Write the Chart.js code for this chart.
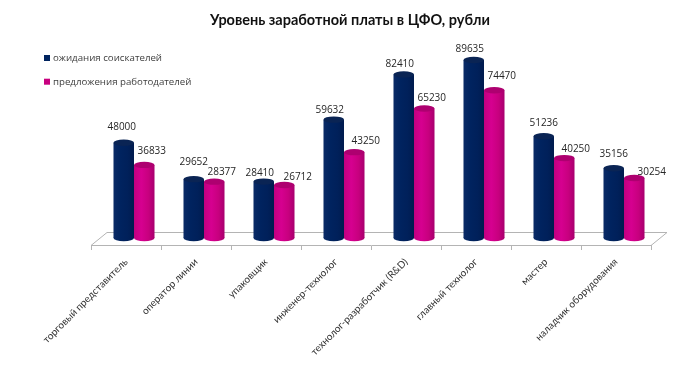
<!DOCTYPE html>
<html><head><meta charset="utf-8">
<style>html,body{margin:0;padding:0;background:#fff}#w{width:700px;height:382px;position:relative}</style>
<script src="https://cdn.jsdelivr.net/npm/chart.js@4"></script>
</head><body><div id="w"><canvas id="c"></canvas></div>
<script>
const categories = ['торговый представитель','оператор линии','упаковщик','инженер-технолог','технолог-разработчик (R&D)','главный технолог','мастер','наладчик оборудования'];
const seriesNames = ['ожидания соискателей','предложения работодателей'];
const seekers = [48000,29652,28410,59632,82410,89635,51236,35156];
const employers = [36833,28377,26712,43250,65230,74470,40250,30254];
const labelNudgeA = [[-2,-12.5],[0,-14],[-4,-5.4],[-4,-5.8],[-4,-7],[-4,-7.8],[0,-10.3],[0,-11]];
const labelNudgeB = [[7.5,-10.7],[7.5,-6.4],[13.5,-4.8],[11.5,-8],[7.5,-7.3],[7.5,-10.9],[11.5,-6],[17.5,-2.7]];
const FONT = '"Open Sans"';
const RY = 3.2, SHIFT = 8;
const palette = [
  {stops:['#0a2a66','#00235f','#00205a','#001b4e'],cap:'#0a2454'},
  {stops:['#c2007f','#d60090','#c8007f','#a8006e'],cap:'#ae0070'}
];
function cylFill(i){
  return c=>{
    const ch=c.chart;
    if(!ch.chartArea||c.dataIndex===undefined) return palette[i].stops[1];
    const xs=ch.scales.x, w=xs.width/categories.length*0.586/2;
    const cx=xs.getPixelForValue(c.dataIndex)+(i===0?-w/2:w/2);
    const g=ch.ctx.createLinearGradient(cx-w/2,0,cx+w/2,0);
    const s=palette[i].stops;
    g.addColorStop(0,s[0]);g.addColorStop(.35,s[1]);g.addColorStop(.7,s[2]);g.addColorStop(1,s[3]);
    return g;
  };
}
const cyl={
  id:'cyl',
  beforeDatasetsDraw(ch){
    const {ctx,chartArea:a}=ch;
    ctx.save();
    ctx.strokeStyle='#b4b4b4';ctx.lineWidth=1;
    ctx.beginPath();
    ctx.moveTo(a.left,a.bottom+.5);ctx.lineTo(a.left+16,a.bottom-12.5);
    ctx.lineTo(a.right+16,a.bottom-12.5);ctx.lineTo(a.right,a.bottom+.5);
    ctx.stroke();
    ctx.restore();
    ctx.save();
    ctx.translate(SHIFT,0);
    ch.data.datasets.forEach((d,i)=>ch.getDatasetMeta(i).data.forEach(b=>{
      ctx.fillStyle=b.options.backgroundColor;
      ctx.beginPath();ctx.ellipse(b.x,b.base,b.width/2,RY,0,0,Math.PI*2);ctx.fill();
    }));
  },
  afterDatasetsDraw(ch){
    const {ctx}=ch;
    ch.data.datasets.forEach((d,i)=>ch.getDatasetMeta(i).data.forEach(b=>{
      ctx.fillStyle=palette[i].cap;
      ctx.beginPath();ctx.ellipse(b.x,b.y,b.width/2,RY,0,0,Math.PI*2);ctx.fill();
    }));
    ctx.restore();
    ctx.save();
    ctx.fillStyle='#262626';ctx.font='10px '+FONT;ctx.textAlign='center';ctx.textBaseline='middle';
    ch.data.datasets.forEach((d,i)=>{
      const nudge=i===0?labelNudgeA:labelNudgeB;
      ch.getDatasetMeta(i).data.forEach((b,k)=>{
        ctx.fillText(String(d.data[k]),b.x+SHIFT+nudge[k][0],b.y-RY+nudge[k][1]);
      });
    });
    ctx.textAlign='left';ctx.font='9.7px '+FONT;
    ch.data.datasets.forEach((d,i)=>{
      const y=58+i*23.7;
      ctx.fillStyle=palette[i].stops[i===0?1:2];ctx.fillRect(44,y-3,6,6);
      ctx.fillStyle='#404040';ctx.fillText(d.label,53,y+.5);
    });
    ctx.restore();
  }
};
new Chart(document.getElementById('c'),{
  type:'bar',
  data:{labels:categories,datasets:[
    {label:seriesNames[0],data:seekers,backgroundColor:cylFill(0)},
    {label:seriesNames[1],data:employers,backgroundColor:cylFill(1)}
  ]},
  plugins:[cyl],
  options:{
    responsive:true,maintainAspectRatio:false,animation:false,
    layout:{padding:{left:49,right:49,top:0,bottom:0}},
    categoryPercentage:.586,barPercentage:1,
    plugins:{
      legend:{display:false},tooltip:{enabled:false},
      title:{display:true,text:'Уровень заработной платы в ЦФО, рубли',color:'#111',
        font:{family:'Lato',size:14.5,weight:'bold'},padding:{top:12,bottom:10.1}}
    },
    scales:{
      x:{
        offset:true,
        afterFit(s){s.height=137;},
        border:{color:'#b4b4b4'},
        grid:{offset:true,drawOnChartArea:false,color:'#b4b4b4',tickLength:5},
        ticks:{autoSkip:false,minRotation:45,maxRotation:45,color:'#333333',padding:6,font:{family:'Lato',size:10}}
      },
      y:{min:-3525,max:100000,grid:{display:false},border:{display:false},
        afterFit(s){s.width=42;},
        ticks:{display:false}}
    }
  }
});
</script></body></html>
